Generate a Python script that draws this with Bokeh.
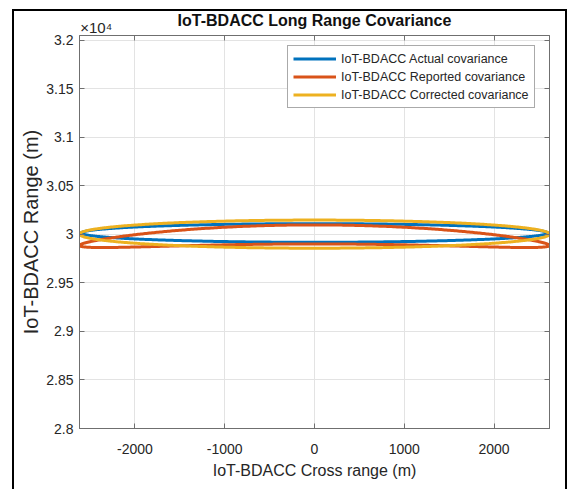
import numpy as np
from bokeh.plotting import figure
from bokeh.models import (Range1d, FixedTicker, LinearAxis, Legend, LegendItem,
                          InlineStyleSheet)
from bokeh.embed import file_html
from bokeh.resources import INLINE

# ---------------- data ----------------
x_ticks = [-2000, -1000, 0, 1000, 2000]
x_tick_labels = ["-2000", "-1000", "0", "1000", "2000"]
y_ticks = [28000, 28500, 29000, 29500, 30000, 30500, 31000, 31500, 32000]
y_tick_labels = ["2.8", "2.85", "2.9", "2.95", "3", "3.05", "3.1", "3.15", "3.2"]
y_multiplier_label = "×10⁴"

series_names = ["IoT-BDACC Actual covariance",
                "IoT-BDACC Reported covariance",
                "IoT-BDACC Corrected covariance"]
series_colors = ["#0072BD", "#D95319", "#EDB120"]

# Cartesian covariance ellipses (actual, corrected): centre and semi-axes (m)
actual_center = [0, 30015]
actual_semi = [2595, 96]
corrected_center = [0, 30003]
corrected_semi = [2617, 145]

# reported covariance, defined in polar coordinates (range, azimuth)
reported_range = 30000
reported_range_sigma = 98
reported_azimuth_half = 0.0873  # rad

x_limits = [-2617, 2617]
y_limits = [28000, 32050]

TXT = "#262626"
AX = "#6f6f6f"
FONT = "Liberation Sans"

# --------------- shapes ---------------
t = np.linspace(0, 2 * np.pi, 721)


def cart_ellipse(center, semi):
    return center[0] + semi[0] * np.cos(t), center[1] + semi[1] * np.sin(t)


def polar_ellipse(r0, sr, half):
    r = r0 + sr * np.sin(t)
    th = half * np.cos(t)
    return r * np.sin(th), r * np.cos(th)


ax_x, ax_y = cart_ellipse(actual_center, actual_semi)
rp_x, rp_y = polar_ellipse(reported_range, reported_range_sigma, reported_azimuth_half)
co_x, co_y = cart_ellipse(corrected_center, corrected_semi)

# --------------- figure ---------------
p = figure(width=571, height=489, output_backend="svg", toolbar_location=None,
           x_range=Range1d(*x_limits), y_range=Range1d(*y_limits),
           min_border_left=79, min_border_right=22, min_border_top=35,
           min_border_bottom=61, background_fill_color="white",
           border_fill_color="white")

p.title.text = "IoT-BDACC Long Range Covariance"
p.title.align = "center"
p.title.text_font = FONT
p.title.text_font_size = "16px"
p.title.text_font_style = "bold"
p.title.text_color = "#111111"
p.title.standoff = -26

p.outline_line_color = AX

r1 = p.line(ax_x, ax_y, line_color=series_colors[0], line_width=3)
r2 = p.line(rp_x, rp_y, line_color=series_colors[1], line_width=3)
r3 = p.line(co_x, co_y, line_color=series_colors[2], line_width=3)

# axes
for ax in (p.xaxis[0], p.yaxis[0]):
    ax.axis_line_color = AX
    ax.major_tick_line_color = AX
    ax.major_tick_in = 5
    ax.major_tick_out = 0
    ax.minor_tick_line_color = None
    ax.major_label_text_font = FONT
    ax.major_label_text_font_size = "14px"
    ax.major_label_text_color = TXT
    ax.axis_label_text_font = FONT
    ax.axis_label_text_font_style = "normal"
    ax.axis_label_text_color = TXT

p.xaxis.ticker = FixedTicker(ticks=x_ticks)
p.xaxis.major_label_overrides = dict(zip(x_ticks, x_tick_labels))
p.xaxis.axis_label = "IoT-BDACC Cross range (m)"
p.xaxis.axis_label_text_font_size = "16px"
p.xaxis.major_label_standoff = 15
p.xaxis.axis_label_standoff = 5

p.yaxis.ticker = FixedTicker(ticks=y_ticks)
p.yaxis.major_label_overrides = dict(zip(y_ticks, y_tick_labels))
p.yaxis.axis_label = "IoT-BDACC Range (m)"
p.yaxis.axis_label_text_font_size = "20px"
p.yaxis.major_label_standoff = 6
p.yaxis.axis_label_standoff = 1

top = LinearAxis(ticker=FixedTicker(ticks=x_ticks),
                 major_label_overrides={k: "" for k in x_ticks})
right = LinearAxis(ticker=FixedTicker(ticks=y_ticks),
                   major_label_overrides={k: "" for k in y_ticks})
for ax in (top, right):
    ax.axis_line_color = AX
    ax.major_tick_line_color = AX
    ax.major_tick_in = 5
    ax.major_tick_out = 0
    ax.minor_tick_line_color = None
    ax.major_label_text_font_size = "0px"
    ax.major_label_standoff = 0

# the y-axis multiplier sits at the left end of the top axis
# (label is centred on the axis start, so it is led by no-break spaces)
top.axis_label = "\u00a0" * 8 + y_multiplier_label
top.axis_label_align = "start"
top.axis_label_standoff = 0
top.axis_label_text_font = FONT
top.axis_label_text_font_size = "15px"
top.axis_label_text_font_style = "normal"
top.axis_label_text_color = TXT

p.add_layout(top, "above")
p.add_layout(right, "right")

p.xgrid.ticker = FixedTicker(ticks=x_ticks)
p.ygrid.ticker = FixedTicker(ticks=y_ticks)
p.xgrid.grid_line_color = "#e3e3e3"
p.ygrid.grid_line_color = "#e3e3e3"

# legend
legend = Legend(items=[LegendItem(label=series_names[0], renderers=[r1]),
                       LegendItem(label=series_names[1], renderers=[r2]),
                       LegendItem(label=series_names[2], renderers=[r3])],
                location=(208, 320))
legend.label_text_font = FONT
legend.label_text_font_size = "12.5px"
legend.label_text_color = TXT
legend.glyph_width = 43
legend.glyph_height = 15
legend.label_height = 15
legend.label_standoff = 5
legend.padding = 5
legend.spacing = 3
legend.margin = 0
legend.border_line_color = "#555555"
legend.border_line_width = 1
legend.background_fill_color = "white"
legend.background_fill_alpha = 1
p.add_layout(legend)

# outer black frame of the picture
p.stylesheets = [InlineStyleSheet(css="""
:host { position: relative; }
:host::after {
  content: ''; position: absolute; left: 12px; top: 9px;
  width: 555px; height: 480px; box-sizing: border-box;
  border: 2px solid black; border-bottom: none; pointer-events: none;
}
""")]

open("out.html", "w").write(file_html(p, INLINE))
